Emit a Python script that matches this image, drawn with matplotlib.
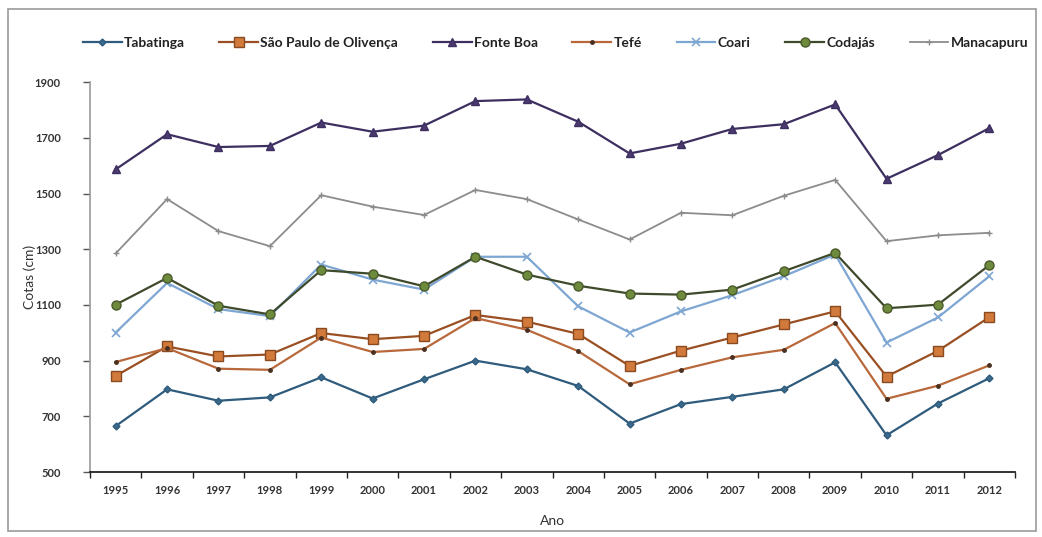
import matplotlib
matplotlib.use("Agg")
import matplotlib.pyplot as plt
from matplotlib.patches import Rectangle

years = ["1995", "1996", "1997", "1998", "1999", "2000", "2001", "2002", "2003",
         "2004", "2005", "2006", "2007", "2008", "2009", "2010", "2011", "2012"]

tabatinga = [665, 797, 756, 768, 840, 764, 833, 900, 869, 809, 674, 744, 770, 797, 894, 632, 746, 837]
sao_paulo = [845, 951, 915, 922, 999, 977, 989, 1064, 1040, 996, 881, 936, 983, 1030, 1077, 843, 935, 1056]
fonte_boa = [1587, 1713, 1667, 1671, 1755, 1722, 1744, 1832, 1838, 1758, 1644, 1679, 1732, 1749, 1820, 1553, 1638, 1735]
tefe = [895, 945, 871, 867, 983, 931, 942, 1053, 1011, 934, 815, 867, 912, 939, 1035, 763, 810, 883]
coari = [1001, 1179, 1085, 1060, 1245, 1191, 1155, 1273, 1273, 1095, 1001, 1077, 1135, 1203, 1281, 965, 1055, 1203]
codajas = [1101, 1197, 1097, 1066, 1225, 1212, 1167, 1273, 1209, 1169, 1141, 1137, 1155, 1221, 1287, 1088, 1101, 1243]
manacapuru = [1285, 1480, 1365, 1311, 1494, 1453, 1423, 1513, 1480, 1407, 1335, 1431, 1422, 1492, 1549, 1329, 1350, 1359]

y_ticks = [500, 700, 900, 1100, 1300, 1500, 1700, 1900]

plt.rcParams['font.family'] = ['Lato', 'DejaVu Sans']

fig = plt.figure(figsize=(10.42, 5.37), dpi=100)
ax = fig.add_axes([0.0864, 0.121, 0.8877, 0.726])

x = list(range(len(years)))

series = [
    ("Tabatinga", tabatinga, dict(color="#2f5b7c", marker="D", markersize=3.5,
                                  markerfacecolor="#3a6a8c", markeredgecolor="#2f5b7c", lw=1.6)),
    ("São Paulo de Olivença", sao_paulo, dict(color="#9a4f22", marker="s", markersize=7,
                                              markerfacecolor="#d27a3c", markeredgecolor="#8a4a20", lw=1.6)),
    ("Fonte Boa", fonte_boa, dict(color="#3d2f5f", marker="^", markersize=5.5,
                                  markerfacecolor="#4a3a70", markeredgecolor="#3d2f5f", lw=1.6)),
    ("Tefé", tefe, dict(color="#b8683a", marker="o", markersize=2.5,
                        markerfacecolor="#4a3020", markeredgecolor="#4a3020", lw=1.6)),
    ("Coari", coari, dict(color="#7ea6d3", marker="x", markersize=6,
                          markeredgecolor="#7ea6d3", markeredgewidth=1.2, lw=1.6)),
    ("Codajás", codajas, dict(color="#3f4a2c", marker="o", markersize=6.5,
                              markerfacecolor="#6e8b3d", markeredgecolor="#4a5a2a", lw=1.6)),
    ("Manacapuru", manacapuru, dict(color="#8c8c8c", marker="+", markersize=5,
                                    markeredgecolor="#8c8c8c", lw=1.3)),
]

handles = []
for name, vals, kw in series:
    h, = ax.plot(x, vals, label=name, **kw)
    handles.append(h)

ax.set_xlim(-0.5, len(years) - 0.5)
ax.set_ylim(500, 1900)
ax.set_yticks(y_ticks)
ax.set_yticklabels([str(v) for v in y_ticks], fontsize=8, color="#333333", fontweight="bold")
ax.set_xticks(x)
ax.set_xticklabels(years, fontsize=8, color="#333333", fontweight="bold")
ax.set_xticks([i - 0.5 for i in range(len(years) + 1)], minor=True)
ax.tick_params(axis="x", which="major", length=0, pad=9)
ax.tick_params(axis="x", which="minor", length=4, width=1, color="#222222", direction="out")
ax.tick_params(axis="y", which="major", length=5, width=1, color="#555555", direction="out", pad=16)

for side in ("top", "right"):
    ax.spines[side].set_visible(False)
ax.spines["left"].set_color("#9a9a9a")
ax.spines["left"].set_linewidth(1.2)
ax.spines["bottom"].set_color("#222222")
ax.spines["bottom"].set_linewidth(1.3)

ax.set_xlabel("Ano", fontsize=10, color="#333333", labelpad=14)
ax.set_ylabel("Cotas (cm)", fontsize=10, color="#333333", labelpad=-1)

leg = fig.legend(handles=handles, loc="center", bbox_to_anchor=(0.533, 0.92), ncol=7,
                 frameon=False, prop={"size": 10, "weight": "bold"}, handlelength=2.8,
                 columnspacing=2.5, handletextpad=0.15)
for t in leg.get_texts():
    t.set_color("#222222")

fig.patches.append(Rectangle((8 / 1042, 1 - 531 / 537), 1028 / 1042, 522 / 537,
                             transform=fig.transFigure, fill=False,
                             edgecolor="#9a9a9a", lw=1.2))

fig.savefig("out.png", dpi=100)
